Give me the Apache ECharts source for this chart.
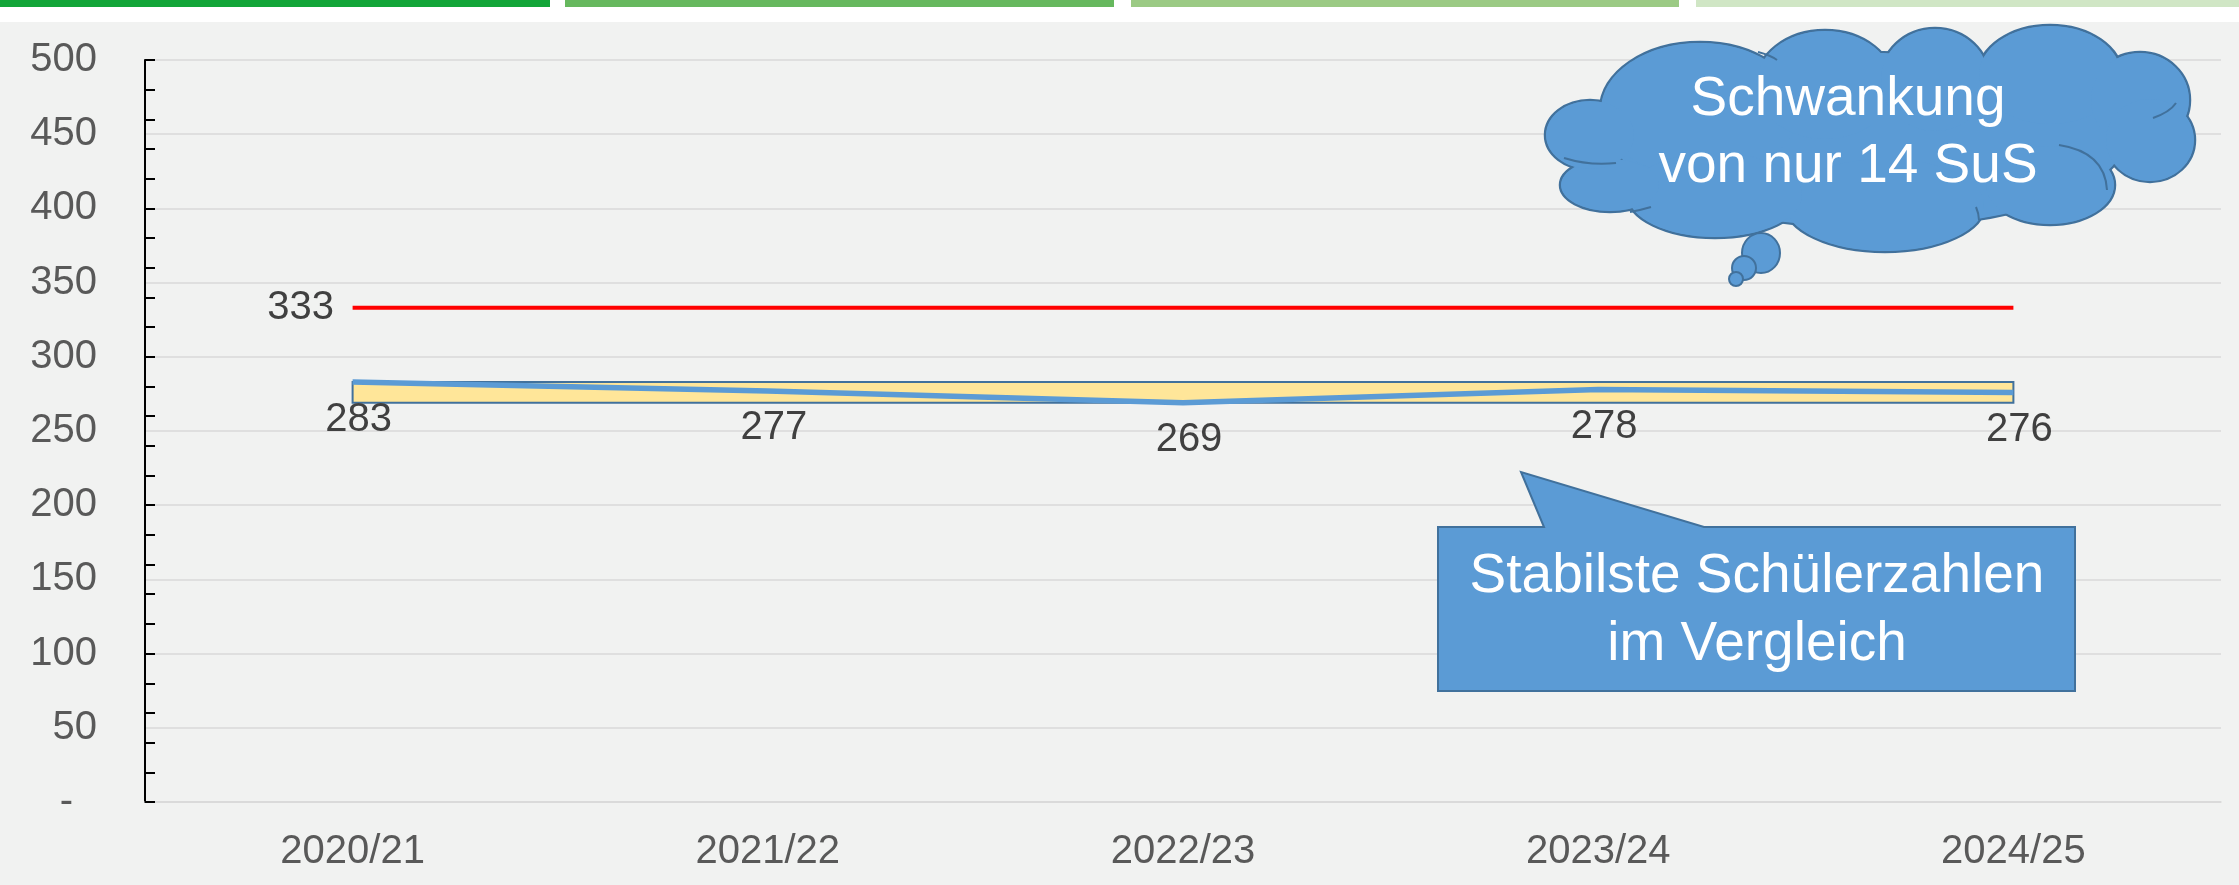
<!DOCTYPE html>
<html>
<head>
<meta charset="utf-8">
<script src="https://cdn.jsdelivr.net/npm/echarts@6/dist/echarts.min.js"></script>
<style>
  html, body { margin: 0; padding: 0; background: #f1f2f1; }
  #chart { width: 2239px; height: 885px; }
</style>
</head>
<body>
<div id="chart"></div>
<script>
const font = "'Liberation Sans', Arial, sans-serif";

// Schuljahre und Schülerzahlen
const categories = ['2020/21', '2021/22', '2022/23', '2023/24', '2024/25'];
const students = [283, 277, 269, 278, 276];
const reference = [333, 333, 333, 333, 333];

const bandLow = Math.min(...students);
const bandHigh = Math.max(...students);

const blue = '#5b9bd5';
const blueEdge = '#41719c';

// Wolke: Ellipsen [cx, cy, rx, ry]
const cloudLobes = [
    [1870, 140, 255, 88],
    [1700, 110, 100, 68],
    [1825, 85, 70, 55],
    [1935, 80, 55, 52],
    [2050, 75, 72, 50],
    [2140, 100, 50, 48],
    [2150, 140, 45, 42],
    [2050, 185, 65, 40],
    [1885, 205, 100, 47],
    [1715, 195, 88, 43],
    [1610, 185, 50, 27],
    [1590, 135, 45, 35]
];
// kleine Innenbögen der Wolke [x1, y1, cpx, cpy, x2, y2]
const cloudArcs = [
    [2059, 145, 2105, 152, 2107, 190],
    [1564, 158, 1590, 166, 1616, 163],
    [2153, 118, 2170, 112, 2176, 103],
    [1630, 212, 1641, 210, 1651, 207],
    [1758, 52, 1770, 55, 1777, 60],
    [1976, 207, 1979, 214, 1979, 220]
];
const bubbles = [[1761, 253, 19, 20], [1744, 268, 12, 12], [1736, 279, 7, 7]];

function cloudGraphic() {
    const els = [];
    cloudLobes.forEach(([cx, cy, rx, ry]) => {
        els.push({
            type: 'ellipse', z2: 1,
            shape: { cx, cy, rx, ry },
            style: { fill: blue, stroke: blueEdge, lineWidth: 2.5 }
        });
    });
    cloudLobes.forEach(([cx, cy, rx, ry]) => {
        els.push({
            type: 'ellipse', z2: 2,
            shape: { cx, cy, rx: rx - 1, ry: ry - 1 },
            style: { fill: blue }
        });
    });
    cloudArcs.forEach(([x1, y1, cpx1, cpy1, x2, y2]) => {
        els.push({
            type: 'bezierCurve', z2: 3,
            shape: { x1, y1, cpx1, cpy1, x2, y2 },
            style: { fill: null, stroke: blueEdge, lineWidth: 2 }
        });
    });
    bubbles.forEach(([cx, cy, rx, ry], i) => {
        els.push({
            type: 'ellipse', z2: 4 + i,
            shape: { cx, cy, rx, ry },
            style: { fill: blue, stroke: blueEdge, lineWidth: 2 }
        });
    });
    els.push({
        type: 'text', z2: 10, x: 1848, y: 133,
        style: {
            text: 'Schwankung\nvon nur 14 SuS',
            fill: '#fff', font: '55px ' + font,
            align: 'center', verticalAlign: 'middle', lineHeight: 67
        }
    });
    return { type: 'group', z: 100, children: els };
}

const topBars = [
    [0, 550, '#12a538'],
    [565, 1114, '#66b85e'],
    [1131, 1679, '#9bca84'],
    [1696, 2239, '#d0e6c5']
];

const graphic = [
    { type: 'rect', z: 0, shape: { x: 0, y: 0, width: 2239, height: 22 }, style: { fill: '#fff' } }
];
topBars.forEach(([x0, x1, c]) => {
    graphic.push({ type: 'rect', z: 1, shape: { x: x0, y: 0, width: x1 - x0, height: 7 }, style: { fill: c } });
});
graphic.push(cloudGraphic());
graphic.push({
    type: 'polygon', z: 100,
    shape: { points: [[1438, 527], [1544, 527], [1521, 472], [1704, 527], [2075, 527], [2075, 691], [1438, 691]] },
    style: { fill: blue, stroke: blueEdge, lineWidth: 2 }
});
graphic.push({
    type: 'text', z: 101, x: 1757, y: 611,
    style: {
        text: 'Stabilste Schülerzahlen\nim Vergleich',
        fill: '#fff', font: '55px ' + font,
        align: 'center', verticalAlign: 'middle', lineHeight: 68
    }
});

const option = {
    backgroundColor: '#f1f2f1',
    animation: false,
    textStyle: { fontFamily: font },
    grid: { left: 145, right: 18, top: 60, bottom: 83 },
    xAxis: {
        type: 'category',
        data: categories,
        boundaryGap: true,
        axisLine: { lineStyle: { color: '#d9d9d9', width: 1.5 } },
        axisTick: { show: false },
        axisLabel: { color: '#595959', fontSize: 40, margin: 30 }
    },
    yAxis: [{
        type: 'value',
        min: 0, max: 500, interval: 50,
        axisLine: { show: false },
        axisTick: { show: false },
        splitLine: { lineStyle: { color: '#d9d9d9', width: 1.5 } },
        axisLabel: {
            color: '#595959', fontSize: 40, margin: 48,
            formatter: v => v === 0 ? '{d|-}' : String(v),
            rich: { d: { color: '#595959', fontSize: 40, padding: [0, 24, 0, 0] } }
        }
    }, {
        type: 'value',
        position: 'left',
        min: 0, max: 500, interval: 20,
        axisLine: { show: true, lineStyle: { color: '#000', width: 2 } },
        axisTick: { show: true, inside: true, length: 10, lineStyle: { color: '#000', width: 2 } },
        axisLabel: { show: false },
        splitLine: { show: false }
    }],
    series: [{
        name: 'Schülerzahl',
        type: 'line',
        data: students,
        z: 3,
        symbol: 'circle',
        symbolSize: 1,
        itemStyle: { color: 'rgba(0,0,0,0)' },
        lineStyle: { color: blue, width: 5.5 },
        label: {
            show: true, position: 'bottom', distance: 17, offset: [6, 0],
            color: '#404040', fontSize: 40
        },
        markArea: {
            silent: true,
            itemStyle: { color: '#ffe699', borderColor: blueEdge, borderWidth: 2, opacity: 1 },
            data: [[
                { xAxis: categories[0], yAxis: bandLow },
                { xAxis: categories[categories.length - 1], yAxis: bandHigh }
            ]]
        }
    }, {
        name: 'Referenz',
        type: 'line',
        data: reference.map((v, i) => ({
            value: v,
            label: { show: i === 0 }
        })),
        z: 4,
        symbol: 'circle',
        symbolSize: 1,
        itemStyle: { color: 'rgba(0,0,0,0)' },
        lineStyle: { color: '#ff0000', width: 4 },
        label: { position: 'left', distance: 18, color: '#404040', fontSize: 40 }
    }],
    graphic: graphic
};

const chart = echarts.init(document.getElementById('chart'), null, { renderer: 'canvas' });
chart.setOption(option);
</script>
</body>
</html>
